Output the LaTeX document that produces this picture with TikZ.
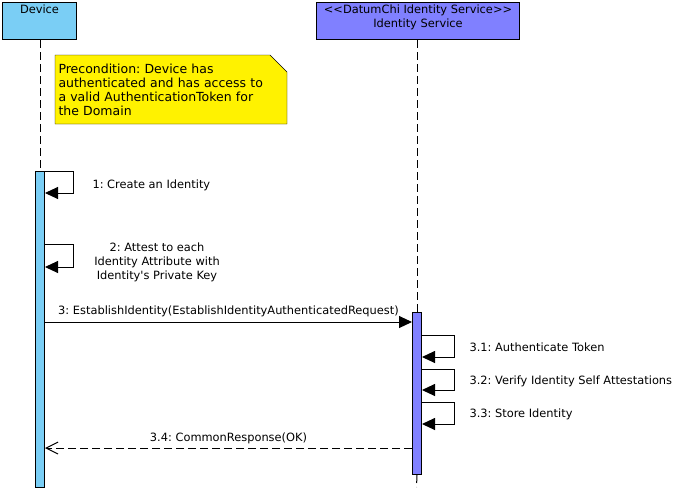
\documentclass[tikz,border=0pt]{standalone}
\usepackage{fontspec}
\setmainfont{DejaVu Sans}
\usetikzlibrary{arrows.meta, backgrounds}
\definecolor{devblue}{RGB}{122,206,245}
\definecolor{svcblue}{RGB}{128,128,255}

\begin{document}
\begin{tikzpicture}[
    x=1pt, y=-1pt,
    line width=1pt,
    font=\fontsize{11.4}{14}\selectfont\frenchspacing,
    actor/.style={draw, anchor=north west, align=center, inner xsep=2pt, inner ysep=3pt, text height=8pt, text depth=23pt},
    activation/.style={draw, anchor=north west, minimum width=9pt, inner sep=0pt},
    lifeline/.style={dash pattern=on 8pt off 4pt},
    sync/.style={-{Triangle[length=13pt, width=12pt]}},
    reply/.style={dash pattern=on 8pt off 4pt, -{Straight Barb[length=12pt, width=12pt]}},
    msg/.style={inner sep=0pt, align=center}
]
\useasboundingbox (0,0) rectangle (690,491);

\node[actor, fill=devblue, minimum width=74pt] (dev) at (2,2) {Device};
\node[actor, fill=svcblue, minimum width=203pt, text height=22pt, text depth=9pt] (svc) at (316,2) {<{}<DatumChi Identity Service>{}>\\Identity Service};

\node[anchor=north west, align=left, text width=225pt, inner xsep=3pt, inner ysep=7pt, minimum height=68pt, font=\fontsize{12.5}{14}\selectfont\frenchspacing] (note) at (55,55)
    {Precondition: Device has\\authenticated and has access to\\a valid AuthenticationToken for\\the Domain};
\begin{scope}[on background layer]
\draw[fill=yellow] (note.north west) -- ([xshift=-17pt]note.north east) -- ([yshift=-17pt]note.north east) -- (note.south east) -- (note.south west) -- cycle;
\end{scope}

\node[activation, fill=devblue, minimum height=316pt] (devbar) at (35,171) {};
\node[activation, fill=svcblue, minimum height=162pt] (svcbar) at (412,312) {};
\coordinate (svcend) at (416.5,487);

\draw[lifeline] (devbar.north |- dev.south) -- (devbar.north);
\draw[lifeline] (svcbar.north |- svc.south) -- (svcbar.north);
\draw[lifeline] (svcbar.south) -- (svcend);

\draw[sync] (devbar.north east) -- ++(28,0) |- (devbar.east |- 0,193);
\node[msg, anchor=base west] (create) at (92,188) {1: Create an Identity};

\draw[sync] (devbar.east |- 0,244) -- ++(28,0) |- (devbar.east |- 0,267);
\node[msg, anchor=base] (attest) at (157,279) {2: Attest to each\\Identity Attribute with\\Identity\textquotesingle s Private Key};

\draw[sync] (devbar.east |- 0,322) -- (svcbar.west |- 0,322)
    node[msg, midway, above=5pt] (establish) {3: EstablishIdentity(EstablishIdentityAuthenticatedRequest)};

\foreach \top/\bot in {335/357, 369/390, 402/424}
    \draw[sync] (svcbar.east |- 0,\top) -- ++(32,0) |- (svcbar.east |- 0,\bot);
\node[msg, anchor=base west] (auth) at (469,351) {3.1: Authenticate Token};
\node[msg, anchor=base west] (verify) at (469,384) {3.2: Verify Identity Self Attestations};
\node[msg, anchor=base west] (store) at (469,417) {3.3: Store Identity};

\draw[reply] (svcbar.west |- 0,448) -- (devbar.east |- 0,448)
    node[msg, midway, above=4pt] (response) {3.4: CommonResponse(OK)};

\end{tikzpicture}
\end{document}
